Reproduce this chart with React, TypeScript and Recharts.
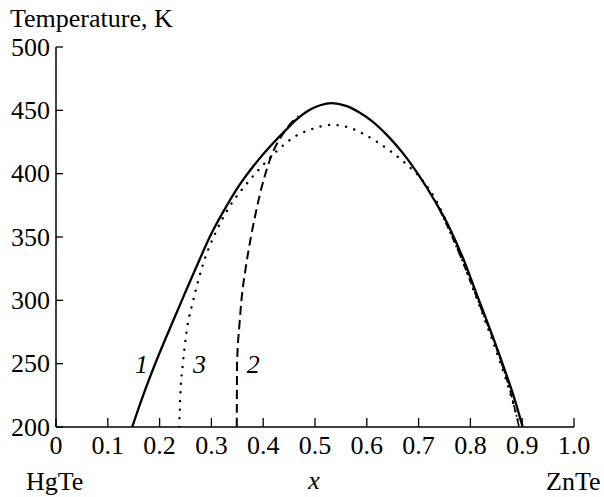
import { ComposedChart, Line, Scatter, XAxis, YAxis } from "recharts";

// axis ticks
const xTicks = [0, 0.1, 0.2, 0.3, 0.4, 0.5, 0.6, 0.7, 0.8, 0.9, 1.0];
const xTickLabels = ["0", "0.1", "0.2", "0.3", "0.4", "0.5", "0.6", "0.7", "0.8", "0.9", "1.0"];
const yTicks = [200, 250, 300, 350, 400, 450, 500];

// curve 1 (solid)
const curve1 = [
  { x: 0.147, t: 200 },
  { x: 0.17, t: 227 },
  { x: 0.194, t: 252.5 },
  { x: 0.22, t: 278 },
  { x: 0.243, t: 300 },
  { x: 0.27, t: 325.5 },
  { x: 0.301, t: 353.5 },
  { x: 0.33, t: 375 },
  { x: 0.355, t: 391.5 },
  { x: 0.39, t: 410.5 },
  { x: 0.419, t: 424 },
  { x: 0.445, t: 435 },
  { x: 0.465, t: 443 },
  { x: 0.49, t: 450.5 },
  { x: 0.51, t: 454 },
  { x: 0.532, t: 455.7 },
  { x: 0.56, t: 453.5 },
  { x: 0.585, t: 448.5 },
  { x: 0.61, t: 441.5 },
  { x: 0.64, t: 430 },
  { x: 0.67, t: 416 },
  { x: 0.7, t: 399 },
  { x: 0.732, t: 378 },
  { x: 0.76, t: 357 },
  { x: 0.787, t: 332 },
  { x: 0.812, t: 305 },
  { x: 0.838, t: 277 },
  { x: 0.862, t: 250 },
  { x: 0.883, t: 225 },
  { x: 0.901, t: 200 },
];

// curve 3 (dotted)
const curve3 = [
  { x: 0.238, t: 200 },
  { x: 0.24, t: 225 },
  { x: 0.245, t: 250 },
  { x: 0.252, t: 275 },
  { x: 0.265, t: 300 },
  { x: 0.285, t: 330 },
  { x: 0.31, t: 355 },
  { x: 0.335, t: 374 },
  { x: 0.368, t: 392 },
  { x: 0.4, t: 407 },
  { x: 0.432, t: 420 },
  { x: 0.46, t: 429 },
  { x: 0.496, t: 435.5 },
  { x: 0.532, t: 438.5 },
  { x: 0.565, t: 436.5 },
  { x: 0.593, t: 431.5 },
  { x: 0.62, t: 425 },
  { x: 0.645, t: 418 },
  { x: 0.675, t: 408 },
  { x: 0.709, t: 394 },
  { x: 0.735, t: 378 },
  { x: 0.76, t: 356 },
  { x: 0.785, t: 331 },
  { x: 0.808, t: 306 },
  { x: 0.832, t: 280 },
  { x: 0.855, t: 254 },
  { x: 0.876, t: 228 },
  { x: 0.895, t: 200 },
];

// curve 2 (dashed, left branch)
const curve2 = [
  { x: 0.349, t: 200 },
  { x: 0.3495, t: 250 },
  { x: 0.354, t: 280 },
  { x: 0.358, t: 300 },
  { x: 0.366, t: 325 },
  { x: 0.375, t: 347 },
  { x: 0.391, t: 379 },
  { x: 0.413, t: 411 },
  { x: 0.439, t: 432 },
  { x: 0.461, t: 443 },
  { x: 0.468, t: 445.5 },
];

// dash-dot branch on the right
const curve2Right = [
  { x: 0.74, t: 372 },
  { x: 0.77, t: 345 },
  { x: 0.8, t: 315 },
  { x: 0.822, t: 292 },
  { x: 0.843, t: 270 },
  { x: 0.862, t: 248 },
  { x: 0.879, t: 225 },
  { x: 0.894, t: 200 },
];

const curveLabels = [
  { x: 0.165, t: 243, name: "1" },
  { x: 0.277, t: 243, name: "3" },
  { x: 0.381, t: 243, name: "2" },
];

const FONT = '"Liberation Serif", "Times New Roman", serif';
const FS = 26;

function XTick(props: any) {
  const { x, y, payload } = props;
  const label = xTickLabels[xTicks.indexOf(payload.value)];
  return (
    <g>
      <line x1={x} x2={x} y1={y} y2={y - 9} stroke="#000" strokeWidth={1.3} />
      <text x={x} y={y + 27} textAnchor="middle" fontSize={FS} fontFamily={FONT} fill="#000">
        {label}
      </text>
    </g>
  );
}

function YTick(props: any) {
  const { x, y, payload } = props;
  return (
    <g>
      <line x1={x} x2={x + 7} y1={y} y2={y} stroke="#000" strokeWidth={1.3} />
      <text x={x - 6} y={y + 8.5} textAnchor="end" fontSize={FS} fontFamily={FONT} fill="#000">
        {payload.value}
      </text>
    </g>
  );
}

function CurveName(props: any) {
  const { cx, cy, payload } = props;
  return (
    <text x={cx} y={cy} textAnchor="middle" fontSize={FS} fontStyle="italic" fontFamily={FONT} fill="#000">
      {payload.name}
    </text>
  );
}

export default function App() {
  return (
    <div style={{ position: "absolute", left: 0, top: 0, width: 604, height: 497, background: "#fff" }}>
      <ComposedChart width={604} height={497} margin={{ top: 47, right: 30, bottom: 40, left: 0 }}>
        <XAxis
          dataKey="x"
          type="number"
          domain={[0, 1]}
          ticks={xTicks}
          height={30}
          tickLine={false}
          tickSize={0}
          tickMargin={0}
          tick={<XTick />}
          stroke="#000"
          strokeWidth={1.5}
          allowDataOverflow
        />
        <YAxis
          type="number"
          domain={[200, 500]}
          ticks={yTicks}
          width={56}
          tickLine={false}
          tickSize={0}
          tickMargin={0}
          tick={<YTick />}
          stroke="#000"
          strokeWidth={1.5}
          allowDataOverflow
        />
        <Line data={curve1} dataKey="t" type="monotone" stroke="#000" strokeWidth={2.3} dot={false} isAnimationActive={false} />
        <Line data={curve3} dataKey="t" type="monotone" stroke="#000" strokeWidth={2.4} strokeDasharray="0.1 8.5" strokeLinecap="round" dot={false} isAnimationActive={false} />
        <Line data={curve2} dataKey="t" type="monotone" stroke="#000" strokeWidth={2} strokeDasharray="9 5" dot={false} isAnimationActive={false} />
        <Line data={curve2Right} dataKey="t" type="monotone" stroke="#000" strokeWidth={1.6} strokeDasharray="7 3 2 3" dot={false} isAnimationActive={false} />
        <Scatter data={curveLabels} dataKey="t" shape={<CurveName />} isAnimationActive={false} />
      </ComposedChart>
      <svg width={604} height={497} style={{ position: "absolute", left: 0, top: 0, pointerEvents: "none" }}>
        <text x={10} y={27} fontSize={FS} fontFamily={FONT} fill="#000">Temperature, K</text>
        <text x={26} y={490} fontSize={FS} fontFamily={FONT} fill="#000">HgTe</text>
        <text x={314} y={489} textAnchor="middle" fontSize={FS} fontStyle="italic" fontFamily={FONT} fill="#000">x</text>
        <text x={546} y={490} fontSize={FS} fontFamily={FONT} fill="#000">ZnTe</text>
      </svg>
    </div>
  );
}
